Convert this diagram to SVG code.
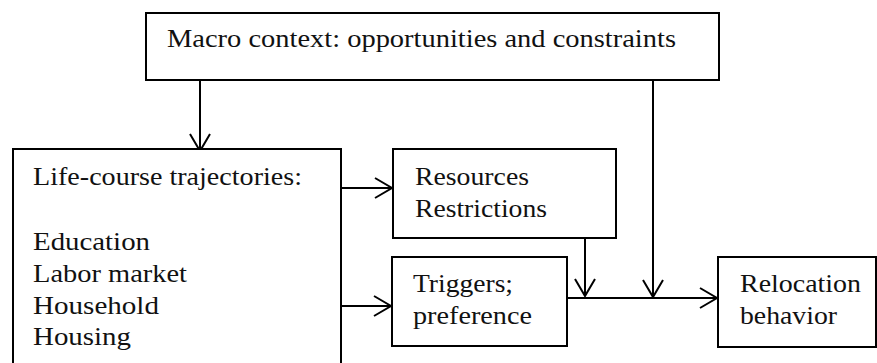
<svg xmlns="http://www.w3.org/2000/svg" width="877" height="363" viewBox="0 0 877 363">
<defs>
<style>
.box{fill:#fff;stroke:#000;stroke-width:2}
.t{font-family:"Liberation Serif","Times New Roman",serif;font-size:26px;fill:#111}
.c{fill:none;stroke:#000;stroke-width:2}
</style>
<marker id="ah" markerUnits="userSpaceOnUse" markerWidth="20" markerHeight="24" refX="17" refY="11" orient="auto" viewBox="-1 0 20 22">
<path d="M0,1 L17,11 L0,21" fill="none" stroke="#000" stroke-width="2"/>
</marker>
</defs>
<rect width="877" height="363" fill="#fff"/>
<g id="connectors">
<path class="c" d="M200,80 V151" marker-end="url(#ah)"/>
<path class="c" d="M653,80 V297" marker-end="url(#ah)"/>
<path class="c" d="M341,188 H392" marker-end="url(#ah)"/>
<path class="c" d="M341,306 H391" marker-end="url(#ah)"/>
<path class="c" d="M585,238 V296" marker-end="url(#ah)"/>
<path class="c" d="M567,298 H717" marker-end="url(#ah)"/>
</g>
<g id="macro">
<rect class="box" x="146" y="13" width="573" height="67"/>
<text class="t" x="167" y="47" textLength="509" lengthAdjust="spacingAndGlyphs">Macro context: opportunities and constraints</text>
</g>
<g id="life">
<rect class="box" x="13" y="149" width="328" height="230"/>
<text class="t" x="33" y="185" textLength="269" lengthAdjust="spacingAndGlyphs">Life-course trajectories:</text>
<text class="t" x="33" y="250" textLength="117" lengthAdjust="spacingAndGlyphs">Education</text>
<text class="t" x="33" y="282" textLength="154" lengthAdjust="spacingAndGlyphs">Labor market</text>
<text class="t" x="33" y="314" textLength="126" lengthAdjust="spacingAndGlyphs">Household</text>
<text class="t" x="33" y="345" textLength="98" lengthAdjust="spacingAndGlyphs">Housing</text>
</g>
<g id="resources">
<rect class="box" x="393" y="149" width="223" height="89"/>
<text class="t" x="415" y="185" textLength="114" lengthAdjust="spacingAndGlyphs">Resources</text>
<text class="t" x="415" y="217" textLength="132" lengthAdjust="spacingAndGlyphs">Restrictions</text>
</g>
<g id="triggers">
<rect class="box" x="392" y="257" width="175" height="89"/>
<text class="t" x="413" y="292" textLength="100" lengthAdjust="spacingAndGlyphs">Triggers;</text>
<text class="t" x="413" y="324" textLength="119" lengthAdjust="spacingAndGlyphs">preference</text>
</g>
<g id="relocation">
<rect class="box" x="718" y="257" width="158" height="90"/>
<text class="t" x="740" y="292" textLength="121" lengthAdjust="spacingAndGlyphs">Relocation</text>
<text class="t" x="740" y="324" textLength="97" lengthAdjust="spacingAndGlyphs">behavior</text>
</g>
</svg>
